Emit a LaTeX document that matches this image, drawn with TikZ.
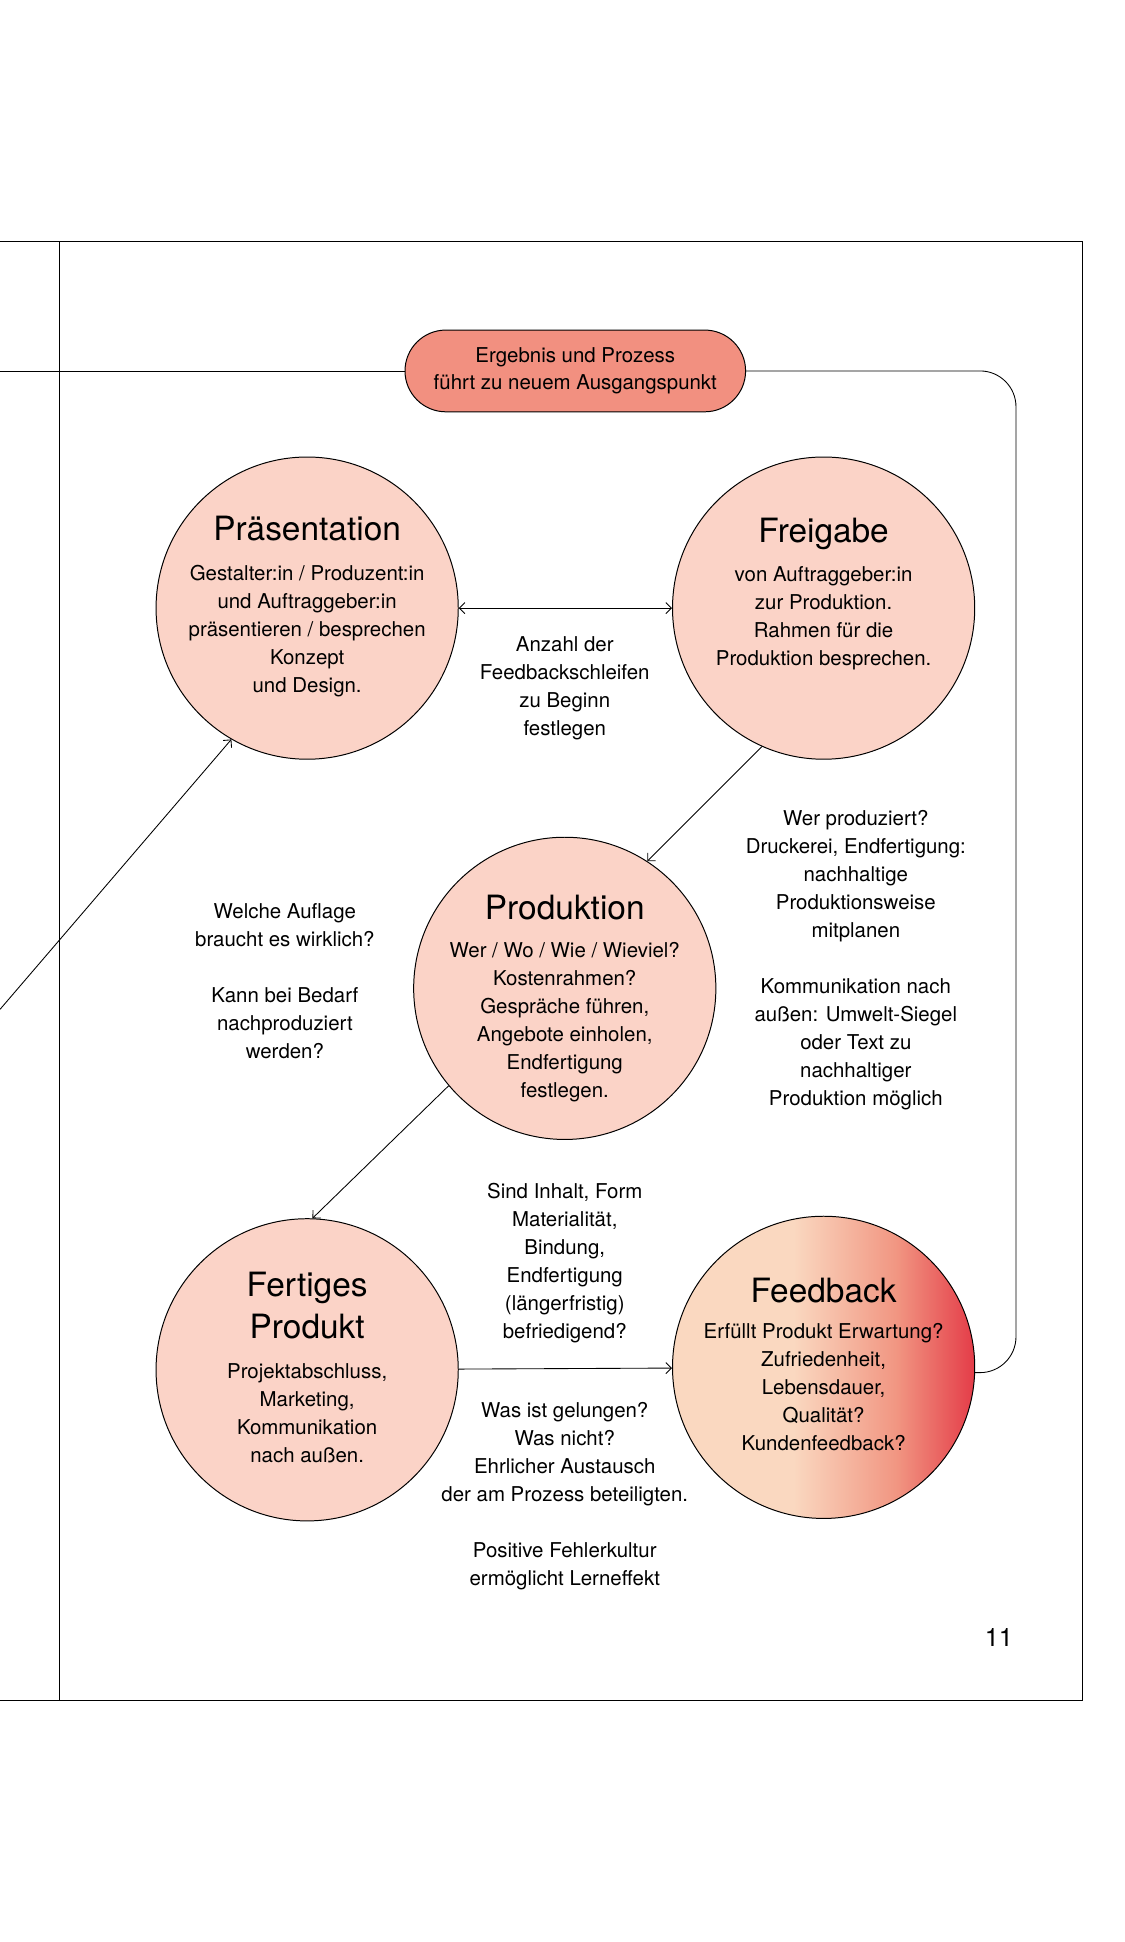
\documentclass[tikz,border=0pt]{standalone}
\usepackage{fontspec}
\setmainfont{TeX Gyre Heros}
\usetikzlibrary{arrows.meta}

\definecolor{stagefill}{RGB}{251,211,199}
\definecolor{pillfill}{RGB}{242,144,128}
\definecolor{fbpeach}{RGB}{250,216,192}
\definecolor{fbsalmon}{RGB}{241,150,130}
\definecolor{fbred}{RGB}{228,60,72}
\pgfdeclarehorizontalshading{feedbackshade}{100bp}{color(0bp)=(fbpeach); color(25bp)=(fbpeach); color(45bp)=(fbpeach); color(62bp)=(fbsalmon); color(75bp)=(fbred); color(100bp)=(fbred)}

\begin{document}
\begin{tikzpicture}[x=1pt, y=-1pt,
    >={Straight Barb[length=4.5pt,width=9pt]},
    frame/.style={line width=0.8pt},
    link/.style={line width=0.7pt},
    stage/.style={circle, draw, line width=0.8pt, fill=stagefill, minimum size=244pt, inner sep=0pt},
    stagetitle/.style={anchor=north, align=center, inner sep=0pt, font=\fontsize{27}{34}\selectfont, execute at begin node=\rule{0pt}{21pt}},
    stagebody/.style={anchor=north, align=center, inner sep=0pt, font=\fontsize{16.5}{22.6}\selectfont, execute at begin node=\rule{0pt}{13pt}},
    pill/.style={rectangle, rounded corners=33pt, draw, line width=0.8pt, fill=pillfill, minimum width=275pt, minimum height=66pt, align=center, font=\fontsize{16.5}{22}\selectfont}]
    \useasboundingbox (0,0) rectangle (908,1568);

    % page frame
    \draw[frame] (0,195) -- (874,195) -- (874,1373) -- (0,1373);
    \draw[frame] (48,195) -- (48,1373);

    \node[pill] (ergebnis) at (464.5,299.5) {Ergebnis und Prozess\\führt zu neuem Ausgangspunkt};

    \node[stage] (pres) at (248,491) {};
    \node[stage] (frei) at (665,491) {};
    \node[stage] (prod) at (456,798) {};
    \node[stage] (fert) at (248,1106) {};
    \node[stage, shade, shading=feedbackshade] (fb) at (665,1104) {};

    \node[stagetitle] (prestitle) at (248,415.5) {Präsentation};
    \node[stagebody] (prestext) at (248,456) {Gestalter:in / Produzent:in\\und Auftraggeber:in\\präsentieren / besprechen\\Konzept\\und Design.};
    \node[stagetitle] (freititle) at (665,416.5) {Freigabe};
    \node[stagebody] (freitext) at (665,457) {von Auftraggeber:in\\zur Produktion.\\Rahmen für die\\Produktion besprechen.};
    \node[stagetitle] (prodtitle) at (456,721.5) {Produktion};
    \node[stagebody] (prodtext) at (456,761) {Wer / Wo / Wie / Wieviel?\\Kostenrahmen?\\Gespräche führen,\\Angebote einholen,\\Endfertigung\\festlegen.};
    \node[stagetitle] (ferttitle) at (248,1027) {Fertiges\\Produkt};
    \node[stagebody] (ferttext) at (248,1101) {Projektabschluss,\\Marketing,\\Kommunikation\\nach außen.};
    \node[stagetitle] (fbtitle) at (665,1030.5) {Feedback};
    \node[stagebody] (fbtext) at (665,1068) {Erfüllt Produkt Erwartung?\\Zufriedenheit,\\Lebensdauer,\\Qualität?\\Kundenfeedback?};

    % notes between the stages
    \node[stagebody] (anzahl) at (456,514) {Anzahl der\\Feedbackschleifen\\zu Beginn\\festlegen};
    \node[stagebody] (wer) at (691,654) {Wer produziert?\\Druckerei, Endfertigung:\\nachhaltige\\Produktionsweise\\mitplanen\\[22.6pt]Kommunikation nach\\außen: Umwelt-Siegel\\oder Text zu\\nachhaltiger\\Produktion möglich};
    \node[stagebody] (auflage) at (230,729) {Welche Auflage\\braucht es wirklich?\\[22.6pt]Kann bei Bedarf\\nachproduziert\\werden?};
    \node[stagebody] (inhalt) at (456,955) {Sind Inhalt, Form\\Materialität,\\Bindung,\\Endfertigung\\(längerfristig)\\befriedigend?};
    \node[stagebody] (gelungen) at (456,1132) {Was ist gelungen?\\Was nicht?\\Ehrlicher Austausch\\der am Prozess beteiligten.\\[22.6pt]Positive Fehlerkultur\\ermöglicht Lerneffekt};

    \node[font=\fontsize{20.5}{24}\selectfont] (seite) at (806.5,1322) {11};

    \coordinate (loopleft) at (0,299.5);
    \coordinate (loopstart) at (0,815);

    \draw[link] (loopleft) -- (ergebnis);
    \draw[link, rounded corners=29pt] (ergebnis.east) -| ([xshift=33pt]fb.-2) -- (fb.-2);
    \draw[link, ->] (loopstart) -- (pres.240);
    \draw[link, <->] (pres) -- (frei);
    \draw[link, ->] (frei.246) -- (prod.57);
    \draw[link, ->] (prod.220) -- (fert.88);
    \draw[link, ->] (fert) -- (fb);
\end{tikzpicture}
\end{document}
